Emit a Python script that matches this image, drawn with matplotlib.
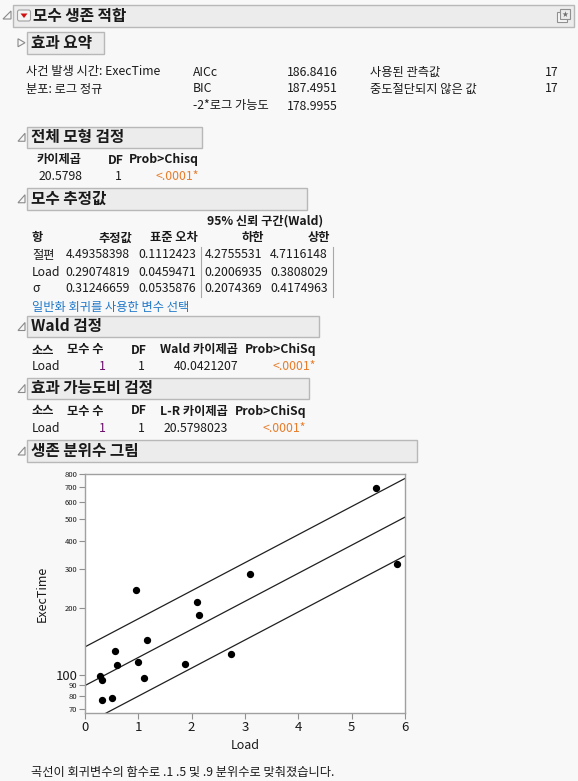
import numpy as np
import matplotlib
matplotlib.use("Agg")
import matplotlib.pyplot as plt
from matplotlib.patches import Rectangle, Polygon, FancyBboxPatch

FONT = ['Noto Sans CJK KR', 'DejaVu Sans']
plt.rcParams['font.family'] = FONT

# ---- 데이터 ----
summary_left = ["사건 발생 시간: ExecTime", "분포: 로그 정규"]
fit_stat_names = ["AICc", "BIC", "-2*로그 가능도"]
fit_stat_values = ["186.8416", "187.4951", "178.9955"]
count_names = ["사용된 관측값", "중도절단되지 않은 값"]
count_values = ["17", "17"]

whole_model_cols = ["카이제곱", "DF", "Prob>Chisq"]
whole_model_vals = ["20.5798", "1", "<.0001*"]

param_terms = ["절편", "Load", "σ"]
param_est = [4.49358398, 0.29074819, 0.31246659]
param_se = ["0.1112423", "0.0459471", "0.0535876"]
param_lower = ["4.2755531", "0.2006935", "0.2074369"]
param_upper = ["4.7116148", "0.3808029", "0.4174963"]

wald_cols = ["소스", "모수 수", "DF", "Wald 카이제곱", "Prob>ChiSq"]
wald_vals = ["Load", "1", "1", "40.0421207", "<.0001*"]
lr_cols = ["소스", "모수 수", "DF", "L-R 카이제곱", "Prob>ChiSq"]
lr_vals = ["Load", "1", "1", "20.5798023", "<.0001*"]

load = [5.46, 5.85, 3.09, 0.96, 2.10, 2.13, 1.17, 0.57, 2.73, 0.60,
        0.99, 1.88, 0.28, 0.32, 1.10, 0.51, 0.31]
exec_time = [693, 315, 283, 240, 213, 185, 143, 128, 124, 111,
             114, 112, 99, 95, 97, 79, 77]
quantile_z = [-1.28155, 0.0, 1.28155]   # .1 .5 .9 분위수
y_ticks = [70, 80, 90, 100, 200, 300, 400, 500, 600, 700, 800]
x_ticks = [0, 1, 2, 3, 4, 5, 6]

ORANGE = '#e87d2c'
PURPLE = '#6a0f6a'
BLUE = '#1f78c8'
DARK = '#1a1a1a'
BASE = 8.8
TITLE = 11.3

W, H = 578, 781
fig = plt.figure(figsize=(W / 100, H / 100), dpi=100)
fig.patch.set_facecolor('#f8f8f8')
bg = fig.add_axes([0, 0, 1, 1])
bg.set_xlim(0, W)
bg.set_ylim(H, 0)
bg.axis('off')


def txt(x, y, s, ha='left', size=BASE, bold=False, color=DARK):
    bg.text(x, y, s, ha=ha, va='center', fontsize=size,
            fontweight='bold' if bold else 'normal', color=color, family=FONT)


def section(x0, x1, y0, y1, title, open_=True):
    bg.add_patch(Rectangle((x0, y0), x1 - x0, y1 - y0, facecolor='#ececec',
                           edgecolor='#b8b8b8', lw=1))
    txt(x0 + 4, (y0 + y1) / 2, title, size=TITLE, bold=True)
    cy = (y0 + y1) / 2
    if open_:
        tri = [(x0 - 2, cy - 4), (x0 - 2, cy + 4), (x0 - 9, cy + 4)]
    else:
        tri = [(x0 - 9, cy - 4), (x0 - 9, cy + 4), (x0 - 2, cy)]
    bg.add_patch(Polygon(tri, closed=True, facecolor='none',
                         edgecolor='#8a8a8a', lw=0.8))


# 상단 제목 막대
bg.add_patch(Rectangle((13, 5), 561, 21.5, facecolor='#ececec', edgecolor='#b8b8b8', lw=1))
bg.add_patch(Polygon([(11, 11), (11, 19), (3, 19)], closed=True, facecolor='none',
                     edgecolor='#8a8a8a', lw=0.8))
bg.add_patch(FancyBboxPatch((17.5, 10), 13, 11, boxstyle='round,pad=0,rounding_size=2',
                            facecolor='#f4f4f4', edgecolor='#a0a0a0', lw=0.8))
bg.add_patch(Polygon([(20.5, 13.5), (27.5, 13.5), (24, 18)], closed=True,
                     facecolor='#d01010', edgecolor='none'))
txt(33, 15.5, "모수 생존 적합", size=TITLE, bold=True)
bg.add_patch(Rectangle((557, 12), 10, 10, facecolor='#f8f8f8', edgecolor='#909090', lw=0.8))
bg.add_patch(Rectangle((560, 9), 10, 10, facecolor='#ececec', edgecolor='#909090', lw=0.8))
bg.text(565, 14.2, "★", ha='center', va='center', fontsize=5.5, color='#707070',
        family='DejaVu Sans')

# 효과 요약
section(27, 104, 32, 53.5, "효과 요약", open_=False)
rows_y = [72, 89, 106]
for s, y in zip(summary_left, rows_y):
    txt(26, y, s)
for name, val, y in zip(fit_stat_names, fit_stat_values, rows_y):
    txt(193, y, name)
    txt(338, y, val, ha='right')
for name, val, y in zip(count_names, count_values, rows_y):
    txt(370, y, name)
    txt(558, y, val, ha='right')

# 전체 모형 검정
section(27, 202, 127, 147.5, "전체 모형 검정")
txt(59.5, 160, whole_model_cols[0], ha='center', bold=True)
txt(116, 160, whole_model_cols[1], ha='center', bold=True)
txt(199, 160, whole_model_cols[2], ha='right', bold=True)
txt(83, 177, whole_model_vals[0], ha='right')
txt(122, 177, whole_model_vals[1], ha='right')
txt(199, 177, whole_model_vals[2], ha='right', color=ORANGE)

# 모수 추정값
section(27, 307, 188, 209.5, "모수 추정값")
txt(265.5, 221, "95% 신뢰 구간(Wald)", ha='center', bold=True)
head_y = 238
txt(32, head_y, "항", bold=True)
col_right = [130, 196, 262, 328]
for s, xr in zip(["추정값", "표준 오차", "하한", "상한"], col_right):
    txt(xr + 2, head_y, s, ha='right', bold=True)
param_rows_y = [255, 272, 289]
for i, y in enumerate(param_rows_y):
    txt(32, y, param_terms[i])
    txt(col_right[0], y, f"{param_est[i]:.8f}", ha='right')
    txt(col_right[1], y, param_se[i], ha='right')
    txt(col_right[2], y, param_lower[i], ha='right')
    txt(col_right[3], y, param_upper[i], ha='right')
for xs in (201, 333):
    bg.plot([xs, xs], [247, 297], color='#a8a8a8', lw=0.8)
txt(32, 307, "일반화 회귀를 사용한 변수 선택", color=BLUE)


def test_table(y_head, y_val, cols, vals, stat_right, p_right):
    txt(32, y_head, cols[0], bold=True)
    txt(67, y_head, cols[1], bold=True)
    txt(147, y_head, cols[2], ha='right', bold=True)
    txt(stat_right, y_head, cols[3], ha='right', bold=True)
    txt(p_right, y_head, cols[4], ha='right', bold=True)
    txt(32, y_val, vals[0])
    txt(106, y_val, vals[1], ha='right', color=PURPLE)
    txt(145, y_val, vals[2], ha='right')
    txt(stat_right, y_val, vals[3], ha='right')
    txt(p_right, y_val, vals[4], ha='right', color=ORANGE)


section(27, 319, 316, 337, "Wald 검정")
test_table(350, 367, wald_cols, wald_vals, 238, 316)
section(27, 309, 378, 399, "효과 가능도비 검정")
test_table(411, 428, lr_cols, lr_vals, 228, 306)
section(27, 417, 440, 462, "생존 분위수 그림")

# ---- 생존 분위수 그림 ----
ax = fig.add_axes([85 / W, 1 - 713 / H, 320 / W, 239 / H])
ax.set_facecolor('white')
ax.set_yscale('log')
xs = np.linspace(0, 6, 50)
for z in quantile_z:
    ax.plot(xs, np.exp(param_est[0] + param_est[1] * xs + param_est[2] * z),
            color='#202020', lw=0.9)
ax.scatter(load, exec_time, s=18, color='black', zorder=3)
ax.set_xlim(0, 6)
ax.set_ylim(67.3, 800)
ax.yaxis.set_minor_locator(matplotlib.ticker.NullLocator())
ax.set_yticks(y_ticks)
ax.set_yticklabels([str(v) for v in y_ticks])
for lbl, v in zip(ax.get_yticklabels(), y_ticks):
    lbl.set_fontsize(9.5 if v == 100 else 5.5)
ax.set_xticks(x_ticks)
ax.set_xticklabels([str(v) for v in x_ticks], fontsize=9.5)
ax.tick_params(axis='both', direction='out', length=4, width=0.8, color='#909090',
               pad=1.5, labelcolor=DARK)
for sp in ax.spines.values():
    sp.set_color('#a0a0a0')
    sp.set_linewidth(1)
ax.set_xlabel("Load", fontsize=9, color=DARK, labelpad=4)
ax.set_ylabel("ExecTime", fontsize=9, color=DARK, labelpad=5)

txt(31, 772, "곡선이 회귀변수의 함수로 .1 .5 및 .9 분위수로 맞춰졌습니다.")

fig.savefig("out.png", dpi=100, facecolor=fig.get_facecolor())
